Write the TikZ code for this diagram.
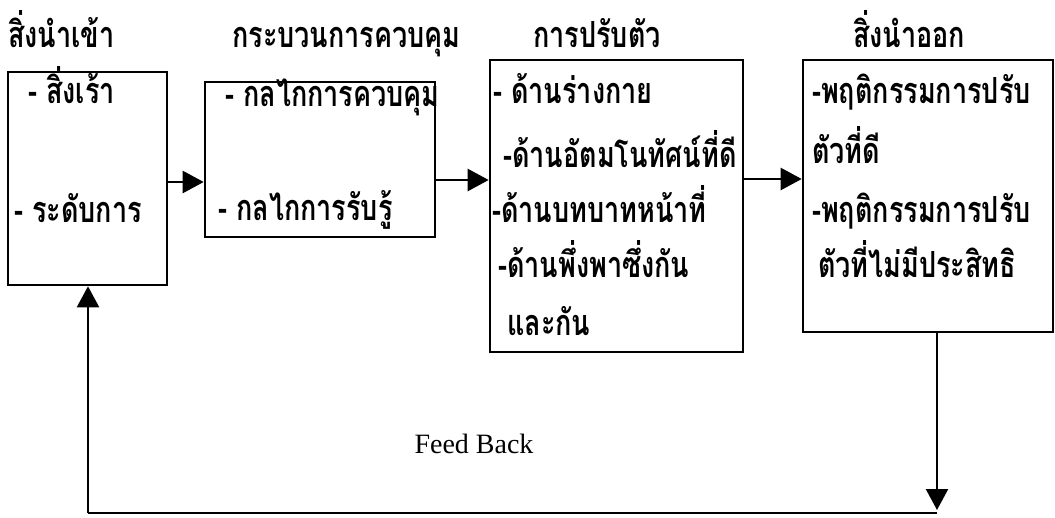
\documentclass[tikz,border=0pt]{standalone}
\usepackage{fontspec}
\setmainfont{Liberation Serif}
\newfontfamily\thai[Script=Thai,FakeStretch=0.75]{Loma}
\usetikzlibrary{arrows.meta}
\tikzset{
  box/.style={draw, line width=2.6pt, inner sep=0pt},
  th/.style={font=\thai\bfseries\fontsize{36}{40}\selectfont, inner sep=0pt, anchor=base west},
  conn/.style={line width=2.4pt, -{Triangle[length=21pt,width=22pt]}},
  plain/.style={line width=2.4pt}
}
\begin{document}
\begin{tikzpicture}[x=1pt,y=-1pt]
\useasboundingbox (0,0) rectangle (1055,517);
% boxes
\node[box, minimum width=159pt, minimum height=213pt] (b1) at (87.5,178.5) {};
\node[box, minimum width=230pt, minimum height=155pt] (b2) at (320,159.5) {};
\node[box, minimum width=253pt, minimum height=292pt] (b3) at (616.5,206) {};
\node[box, minimum width=250pt, minimum height=272pt] (b4) at (928,196) {};
% titles
\node[th] (t1) at (8,47) {สิ่งนำเข้า};
\node[th] (t2) at (232,47) {กระบวนการควบคุม};
\node[th] (t3) at (533,47) {การปรับตัว};
\node[th] (t4) at (853,47) {สิ่งนำออก};
% box 1
\node[th] (a1) at (28,103) {- สิ่งเร้า};
\node[th] (a2) at (14,222) {- ระดับการ};
% box 2
\node[th] (c1) at (225,106) {- กลไกการควบคุม};
\node[th] (c2) at (218,220) {- กลไกการรับรู้};
% box 3
\node[th] (d1) at (493,103) {- ด้านร่างกาย};
\node[th] (d2) at (503,167) {-ด้านอัตมโนทัศน์ที่ดี};
\node[th] (d3) at (492,222) {-ด้านบทบาทหน้าที่};
\node[th] (d4) at (498,277) {-ด้านพึ่งพาซึ่งกัน};
\node[th] (d5) at (507,335) {และกัน};
% box 4
\node[th] (e1) at (812,103) {-พฤติกรรมการปรับ};
\node[th] (e2) at (812,163) {ตัวที่ดี};
\node[th] (e3) at (812,222) {-พฤติกรรมการปรับ};
\node[th] (e4) at (818,277) {ตัวที่ไม่มีประสิทธิ};
% feedback label
\node[font=\fontsize{28}{32}\selectfont, inner sep=0pt, anchor=base] (fb) at (474,453) {Feed Back};
% connectors
\draw[conn] (b1.east |- 0,182) -- (b2.west |- 0,182);
\draw[conn] (b2.east |- 0,180) -- (b3.west |- 0,180);
\draw[conn] (b3.east |- 0,179) -- (b4.west |- 0,179);
\coordinate (r1) at (937,510);
\coordinate (r2) at (937,513);
\coordinate (l1) at (88,513);
\draw[conn] (b4.south -| r1) -- (r1);
\draw[plain] (r2) -- (l1);
\draw[conn] (l1) -- (b1.south -| l1);
\end{tikzpicture}
\end{document}
